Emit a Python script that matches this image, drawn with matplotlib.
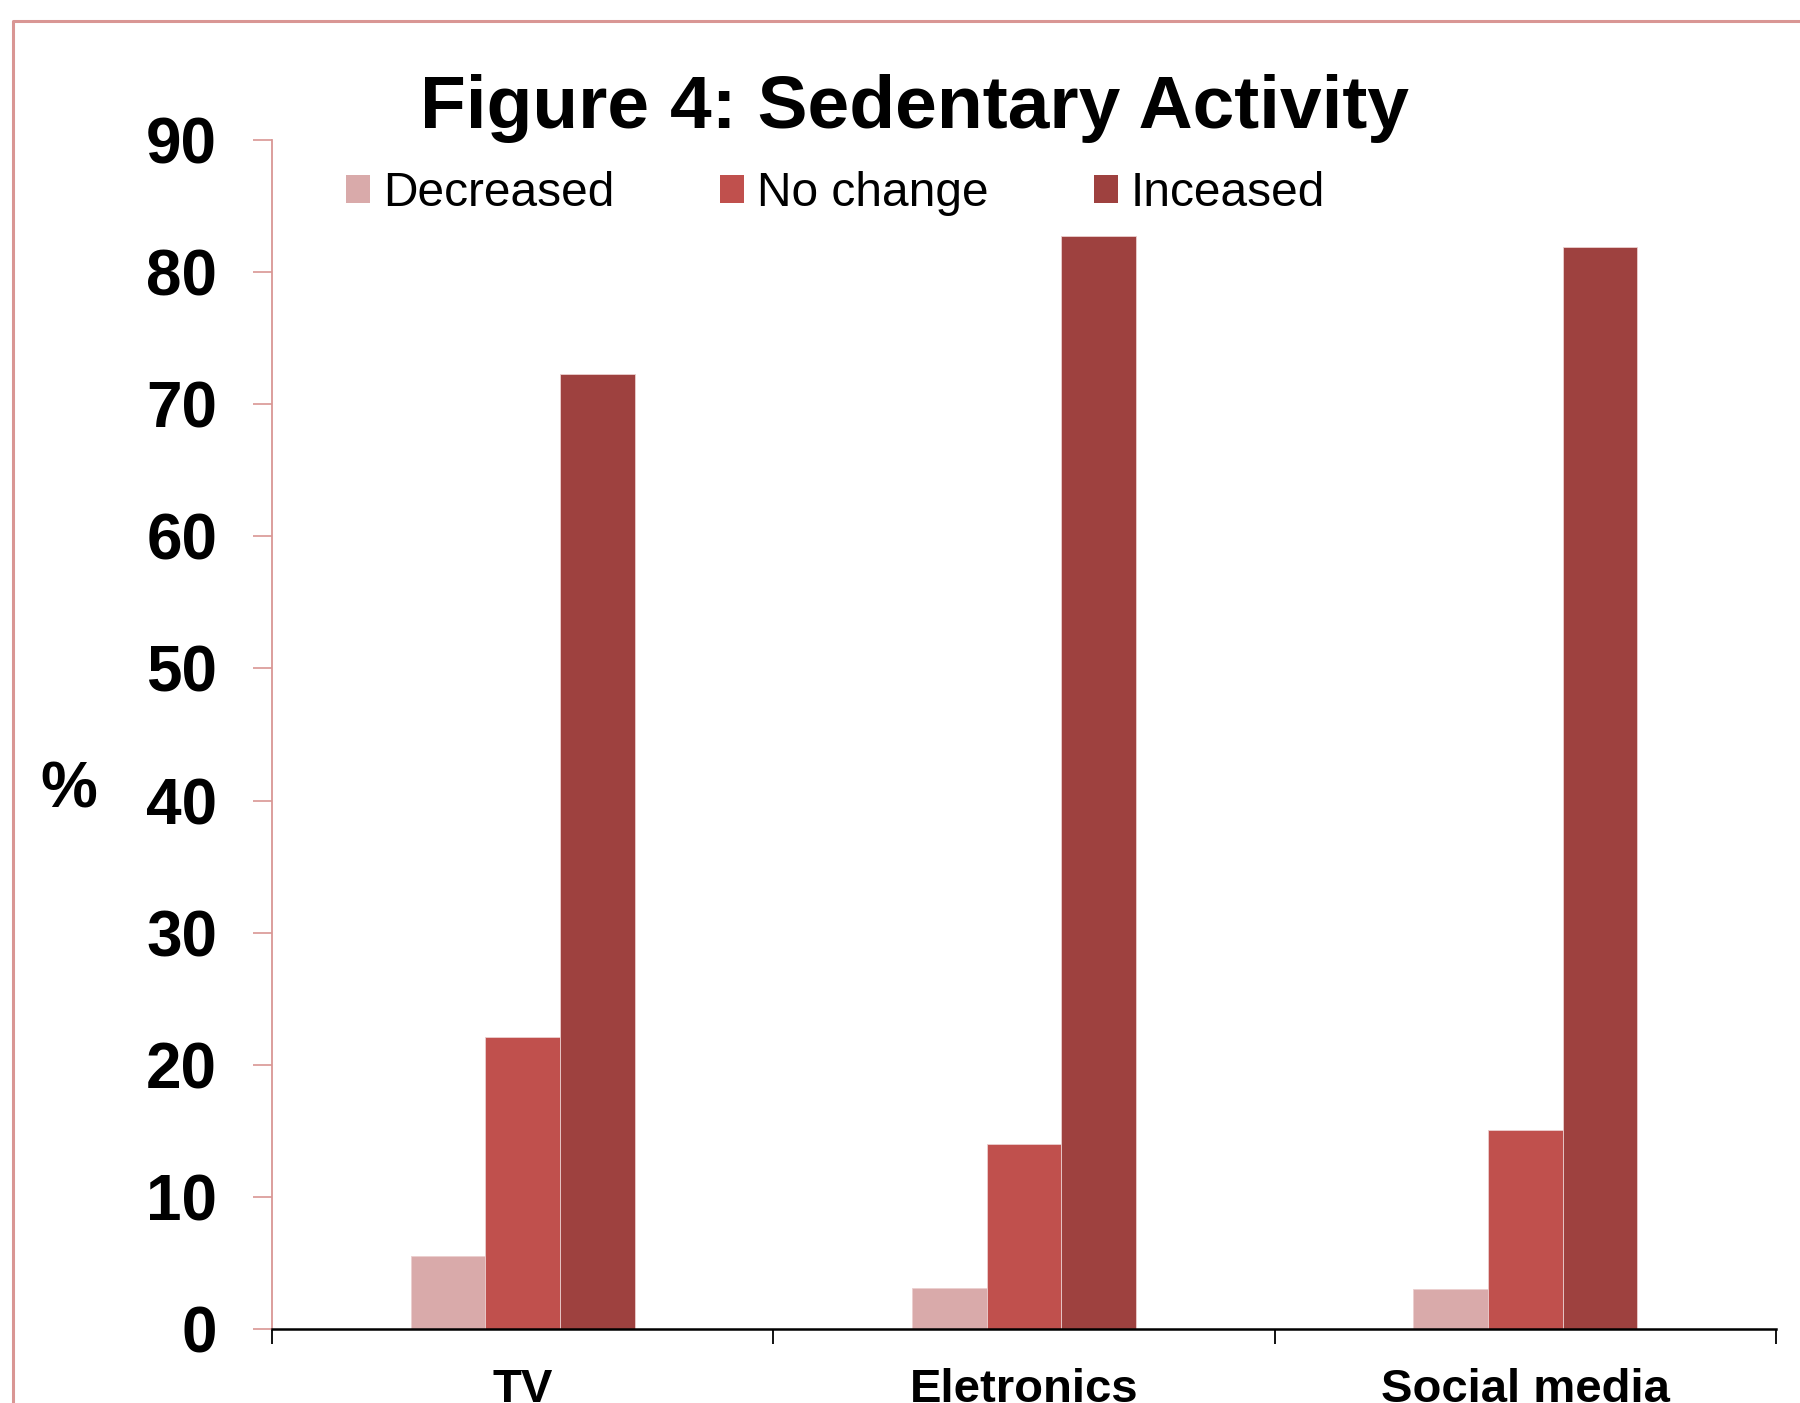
import numpy as np
import matplotlib
matplotlib.use("Agg")
import matplotlib.pyplot as plt
from matplotlib.patches import Patch
from matplotlib.lines import Line2D

# Data
categories = ["TV", "Eletronics", "Social media"]
series_names = ["Decreased", "No change", "Inceased"]
decreased = [5.5, 3.1, 3.0]
no_change = [22.1, 14.0, 15.1]
increased = [72.3, 82.7, 81.9]
y_ticks = [0, 10, 20, 30, 40, 50, 60, 70, 80, 90]

colors = ["#D9AAAA", "#C0504D", "#9E413F"]
pink = "#D99694"

plt.rcParams["font.family"] = ["Liberation Sans", "DejaVu Sans"]

W, H = 1800, 1403
fig = plt.figure(figsize=(W / 100, H / 100), dpi=100)
ax = fig.add_axes([272 / W, 1 - 1329 / H, (1776 - 272) / W, (1329 - 140) / H])

x = np.arange(len(categories))
bw = 0.149
for i, (vals, name) in enumerate(zip([decreased, no_change, increased], series_names)):
    ax.bar(x + (i - 1) * bw, vals, width=bw, color=colors[i], label=name,
           edgecolor="#EBCFCF", linewidth=0.6, zorder=2)

ax.set_xlim(-0.5, len(categories) - 0.5)
ax.set_ylim(0, 90)
ax.set_yticks(y_ticks)
ax.set_yticklabels([str(t) for t in y_ticks], fontsize=46, fontweight="bold")

# category labels centred, boundary ticks between groups
ax.set_xticks(x)
ax.set_xticklabels(categories, fontsize=34, fontweight="bold")
ax.tick_params(axis="x", which="major", length=0, pad=28)
ax.set_xticks(np.arange(-0.5, len(categories)), minor=True)
ax.tick_params(axis="x", which="minor", length=11, width=1.3, color="black")

ax.tick_params(axis="y", length=13.5, width=1.2, color=pink, pad=26)

for s in ["top", "right"]:
    ax.spines[s].set_visible(False)
ax.spines["left"].set_color(pink)
ax.spines["left"].set_linewidth(1.3)
ax.spines["bottom"].set_color("black")
ax.spines["bottom"].set_linewidth(1.8)
ax.spines["bottom"].set_zorder(3)

fig.text(69 / W, 1 - 790 / H, "%", fontsize=46, fontweight="bold",
         ha="center", va="center")

fig.text(914 / W, 1 - 128 / H, "Figure 4: Sedentary Activity", fontsize=54,
         fontweight="bold", ha="center", va="baseline")

handles = [Patch(facecolor=c, edgecolor="none") for c in colors]
fig.legend(handles, series_names, loc="center left",
           bbox_to_anchor=(346 / W, 1 - 193.5 / H), ncol=3, frameon=False,
           fontsize=34.5, handlelength=0.5, handleheight=0.5,
           handletextpad=0.27, columnspacing=2.2, borderpad=0,
           borderaxespad=0)

# outer frame
fx, fy = 13 / W, 1 - 20.5 / H
fig.add_artist(Line2D([fx, fx, 1.01], [-0.01, fy, fy], transform=fig.transFigure,
                      color=pink, linewidth=2.2, solid_joinstyle="round"))

fig.savefig("out.png", dpi=100)
